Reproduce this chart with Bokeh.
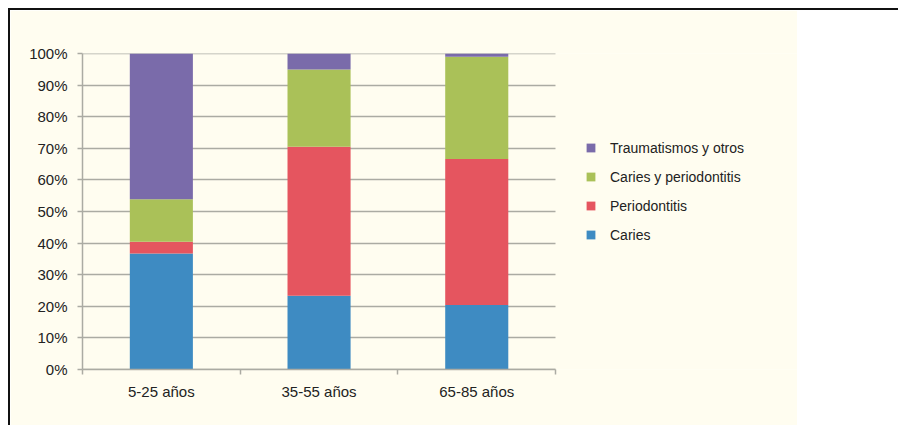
from bokeh.plotting import figure
from bokeh.models import (Range1d, LinearAxis, FixedTicker,
                          PrintfTickFormatter, Legend, LegendItem, Spacer)
from bokeh.layouts import row
from bokeh.embed import file_html
from bokeh.resources import INLINE

categories = ["5-25 años", "35-55 años", "65-85 años"]
caries = [36.7, 23.3, 20.4]
periodontitis = [3.7, 47.2, 46.2]
caries_perio = [13.5, 24.4, 32.4]
traumatismos = [46.1, 5.1, 1.0]
series_names = ["Caries", "Periodontitis", "Caries y periodontitis", "Traumatismos y otros"]
colors = ["#3E8BC2", "#E5555F", "#AAC158", "#7A6BAA"]
y_ticks = list(range(0, 101, 10))

CREAM = "#FFFDF0"
GRID = "#ABABA3"
FONT = "Liberation Sans"
TXT = "#222222"

n_cat = len(categories)
cat_pos = [i + 0.5 for i in range(n_cat)]
boundary_ticks = list(range(n_cat + 1))

data = dict(x=cat_pos)
keys = ["caries", "perio", "cp", "trauma"]
for k, v in zip(keys, [caries, periodontitis, caries_perio, traumatismos]):
    data[k] = v

FRAME_W = 715
PITCH = 157.7
p = figure(x_range=Range1d(0, FRAME_W / PITCH), y_range=Range1d(0, 100),
           width=787, height=415, output_backend="svg", toolbar_location=None,
           x_axis_location=None, min_border_left=72, min_border_right=0,
           min_border_top=43, min_border_bottom=56)
p.background_fill_color = CREAM
p.border_fill_color = CREAM
p.outline_line_color = None

rs = p.vbar_stack(keys, x="x", width=0.4, color=colors, source=data, line_color=None)

p.xgrid.visible = False
p.ygrid.visible = False

# labelled y axis
ya = p.yaxis[0]
ya.ticker = FixedTicker(ticks=y_ticks)
ya.formatter = PrintfTickFormatter(format="%d%%")
ya.axis_line_color = GRID
ya.axis_line_width = 1.5
ya.major_tick_line_color = GRID
ya.major_tick_line_width = 1.5
ya.major_tick_in = 0
ya.major_tick_out = 5
ya.minor_tick_line_color = None
ya.major_label_standoff = 10
ya.major_label_text_font = FONT
ya.major_label_text_font_size = "15px"
ya.major_label_text_color = TXT

# gridlines: ticks of a second y axis reaching across the categories, behind the bars
grid_axis = LinearAxis(ticker=FixedTicker(ticks=y_ticks), fixed_location=0, level="underlay")
grid_axis.axis_line_color = None
grid_axis.major_tick_line_color = GRID
grid_axis.major_tick_line_width = 1.5
grid_axis.major_tick_in = round(n_cat * PITCH)
grid_axis.major_tick_out = 0
grid_axis.minor_tick_line_color = None
grid_axis.major_label_overrides = {t: "" for t in y_ticks}
grid_axis.major_label_text_font_size = "1px"
grid_axis.major_label_standoff = 0
p.add_layout(grid_axis, "left")

tick_axis = LinearAxis(ticker=FixedTicker(ticks=boundary_ticks), bounds=(0, n_cat))
tick_axis.axis_line_color = GRID
tick_axis.axis_line_width = 1.5
tick_axis.major_tick_line_color = GRID
tick_axis.major_tick_line_width = 1.5
tick_axis.major_tick_in = 0
tick_axis.major_tick_out = 5
tick_axis.minor_tick_line_color = None
tick_axis.major_label_overrides = {t: "" for t in boundary_ticks}
tick_axis.major_label_text_font_size = "1px"
tick_axis.major_label_standoff = 0
p.add_layout(tick_axis, "below")

label_axis = LinearAxis(ticker=FixedTicker(ticks=cat_pos), bounds=(0, n_cat))
label_axis.major_label_overrides = {pos: c for pos, c in zip(cat_pos, categories)}
label_axis.axis_line_color = None
label_axis.major_tick_line_color = None
label_axis.minor_tick_line_color = None
label_axis.major_label_standoff = 2
label_axis.major_label_text_font = FONT
label_axis.major_label_text_font_size = "15px"
label_axis.major_label_text_color = TXT
p.add_layout(label_axis, "below")

items = [LegendItem(label=n, renderers=[r]) for n, r in zip(series_names, rs)][::-1]
legend = Legend(items=items, location=(503, 125), padding=0, margin=0,
                glyph_width=11, glyph_height=11, label_standoff=14,
                label_height=19, spacing=10,
                label_text_font=FONT, label_text_font_size="14px", label_text_color=TXT,
                border_line_color=None, background_fill_alpha=0)
p.add_layout(legend, "center")

spacer = Spacer(width=101, height=415)
layout = row(p, spacer, margin=(8, 0, 0, 8),
             styles={"border-top": "2px solid #111111", "border-left": "2px solid #111111"})

open("out.html", "w").write(file_html(layout, INLINE))
